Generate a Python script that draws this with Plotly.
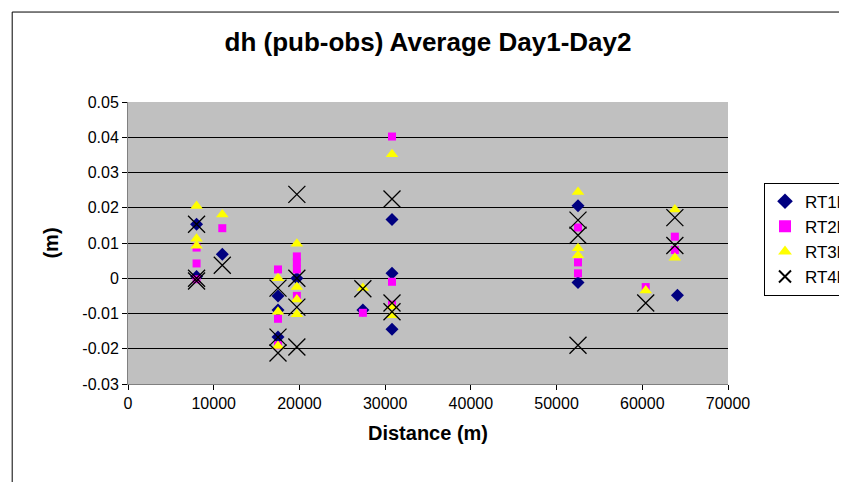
import plotly.graph_objects as go

# values
rt1_x = [8000, 8000, 11000, 17500, 17500, 17500, 19700, 27400, 30800, 30800, 30800, 52500, 52500, 64100]
rt1_y = [0.0153, 0.0005, 0.0068, -0.005, -0.009, -0.0167, 0.0, -0.009, 0.0167, 0.0014, -0.0145, 0.0206, -0.0012, -0.0048]

rt2_x = [8000, 8000, 8000, 11000, 17500, 17500, 17500, 19700, 19700, 19700, 19700, 27400, 30800, 30800, 30800,
         52500, 52500, 52500, 60400, 63800, 63800]
rt2_y = [0.0087, 0.0042, -0.0003, 0.0142, 0.0025, -0.0115, -0.019, 0.0062, 0.0045, 0.0025, -0.005, -0.0098, 0.0402, -0.001, -0.0075,
         0.0144, 0.0045, 0.0014, -0.0025, 0.0118, 0.008]

rt3_x = [8000, 8000, 8000, 11000, 17500, 17500, 17500, 19700, 19700, 19700, 19700, 27400, 30800, 30800, 30800,
         52500, 52500, 52500, 60400, 63800, 63800]
rt3_y = [0.0205, 0.0112, 0.0092, 0.0181, 0.0, -0.0095, -0.0192, 0.0098, -0.0025, -0.006, -0.0102, -0.0028, 0.0352, -0.008, -0.0105,
         0.0245, 0.0085, 0.0065, -0.0035, 0.0195, 0.0058]

rt4_x = [8000, 8000, 8000, 11000, 17500, 17500, 17500, 19700, 19700, 19700, 19700, 27400, 30800, 30800, 30800,
         52500, 52500, 52500, 60400, 63800, 63800]
rt4_y = [0.0153, 0.0, -0.0008, 0.0037, -0.0028, -0.0167, -0.0212, 0.0238, 0.0, -0.0082, -0.0195, -0.003, 0.0225, -0.007, -0.0095,
         0.0165, 0.0122, -0.019, -0.007, 0.0172, 0.0093]

y_ticks = [-0.03, -0.02, -0.01, 0, 0.01, 0.02, 0.03, 0.04, 0.05]
y_labels = ["-0.03", "-0.02", "-0.01", "0", "0.01", "0.02", "0.03", "0.04", "0.05"]

fig = go.Figure()
fig.add_trace(go.Scatter(x=rt1_x, y=rt1_y, mode="markers", name="RT1h",
                         marker=dict(symbol="diamond", size=10, color="#000080")))
fig.add_trace(go.Scatter(x=rt2_x, y=rt2_y, mode="markers", name="RT2h",
                         marker=dict(symbol="square", size=8, color="#ff00ff")))
fig.add_trace(go.Scatter(x=rt3_x, y=rt3_y, mode="markers", name="RT3h",
                         marker=dict(symbol="triangle-up", size=11, color="#ffff00")))
fig.add_trace(go.Scatter(x=rt4_x, y=rt4_y, mode="markers", name="RT4h",
                         marker=dict(symbol="x-thin", size=17, line=dict(width=1.3, color="black"))))

fig.update_layout(
    width=847, height=482,
    margin=dict(l=120, r=127, t=94, b=106, autoexpand=False),
    paper_bgcolor="white", plot_bgcolor="#c0c0c0",
    font=dict(family="Arial, Liberation Sans", size=16, color="black"),
    title=dict(text="<b>dh (pub-obs) Average Day1-Day2</b>", x=0.5, xanchor="center",
               xref="paper", y=0.93, yanchor="middle", font=dict(size=26)),
    showlegend=True,
    legend=dict(x=1.06, y=0.714, xanchor="left", yanchor="top", bgcolor="white",
                bordercolor="black", borderwidth=1, font=dict(size=17),
                itemsizing="constant", itemwidth=30, tracegroupgap=0),
    xaxis=dict(range=[0, 70000], dtick=10000, tickformat="d", showgrid=False, zeroline=False,
               showline=True, linecolor="#808080", ticks="outside", ticklen=5,
               tickcolor="black", tickfont=dict(size=16),
               title=dict(text="<b>Distance (m)</b>", standoff=14, font=dict(size=20))),
    yaxis=dict(range=[-0.03, 0.05], tickvals=y_ticks, ticktext=y_labels, showgrid=True,
               gridcolor="black", gridwidth=1, zeroline=False, showline=True,
               linecolor="#808080", ticks="outside", ticklen=5, tickcolor="black",
               tickfont=dict(size=16),
               title=dict(text="<b>(m)</b>", standoff=18, font=dict(size=20))),
    shapes=[dict(type="path", xref="paper", yref="paper",
                 path="M -0.193,-0.5 L -0.193,1.319 L 1.6,1.319",
                 line=dict(color="black", width=1))],
)

fig.write_html("out.html")
